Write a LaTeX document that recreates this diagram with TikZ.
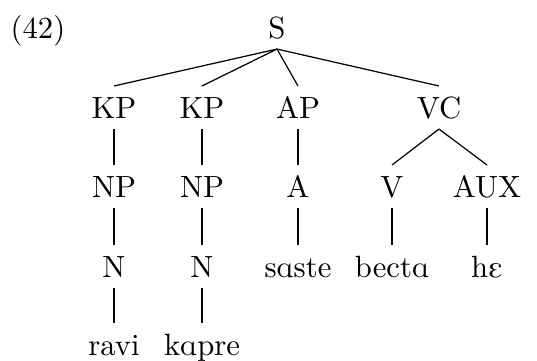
\documentclass[tikz,border=0pt]{standalone}
\usepackage{tipa}
\begin{document}
\begin{tikzpicture}[x=0.3257pt,y=-0.3257pt,
  lbl/.style={anchor=base,inner sep=0pt,outer sep=0pt,text height=6.83pt,text depth=0pt,inner ysep=3.6pt},
  edge/.style={line width=0.4pt}]
\useasboundingbox (0,0) rectangle (537,361);
\node[anchor=base west,inner sep=0pt] (ex) at (10,38) {(42)};
\node[lbl] (S) at (277,38) {S};
\node[lbl] (KP1) at (114,118) {KP};
\node[lbl] (KP2) at (202,118) {KP};
\node[lbl] (AP) at (298,118) {AP};
\node[lbl] (VC) at (439,118) {VC};
\node[lbl] (NP1) at (114,197) {NP};
\node[lbl] (NP2) at (202,197) {NP};
\node[lbl] (A) at (298,197) {A};
\node[lbl] (V) at (392,197) {V};
\node[lbl] (AUX) at (487,197) {AUX};
\node[lbl] (N1) at (114,277) {N};
\node[lbl] (N2) at (202,277) {N};
\node[lbl] (w3) at (298,277) {\textipa{sAste}};
\node[lbl] (w4) at (392,277) {\textipa{bectA}};
\node[lbl] (w5) at (487,277) {\textipa{hE}};
\node[lbl] (w1) at (114,355) {ravi};
\node[lbl] (w2) at (202,355) {\textipa{kApre}};
\draw[edge] (S.south) -- (KP1.north);
\draw[edge] (S.south) -- (KP2.north);
\draw[edge] (S.south) -- (AP.north);
\draw[edge] (S.south) -- (VC.north);
\draw[edge] (KP1.south) -- (NP1.north);
\draw[edge] (KP2.south) -- (NP2.north);
\draw[edge] (AP.south) -- (A.north);
\draw[edge] (VC.south) -- (V.north);
\draw[edge] (VC.south) -- (AUX.north);
\draw[edge] (NP1.south) -- (N1.north);
\draw[edge] (NP2.south) -- (N2.north);
\draw[edge] (A.south) -- (w3.north);
\draw[edge] (V.south) -- (w4.north);
\draw[edge] (AUX.south) -- (w5.north);
\draw[edge] (N1.south) -- (w1.north);
\draw[edge] (N2.south) -- (w2.north);
\end{tikzpicture}
\end{document}
